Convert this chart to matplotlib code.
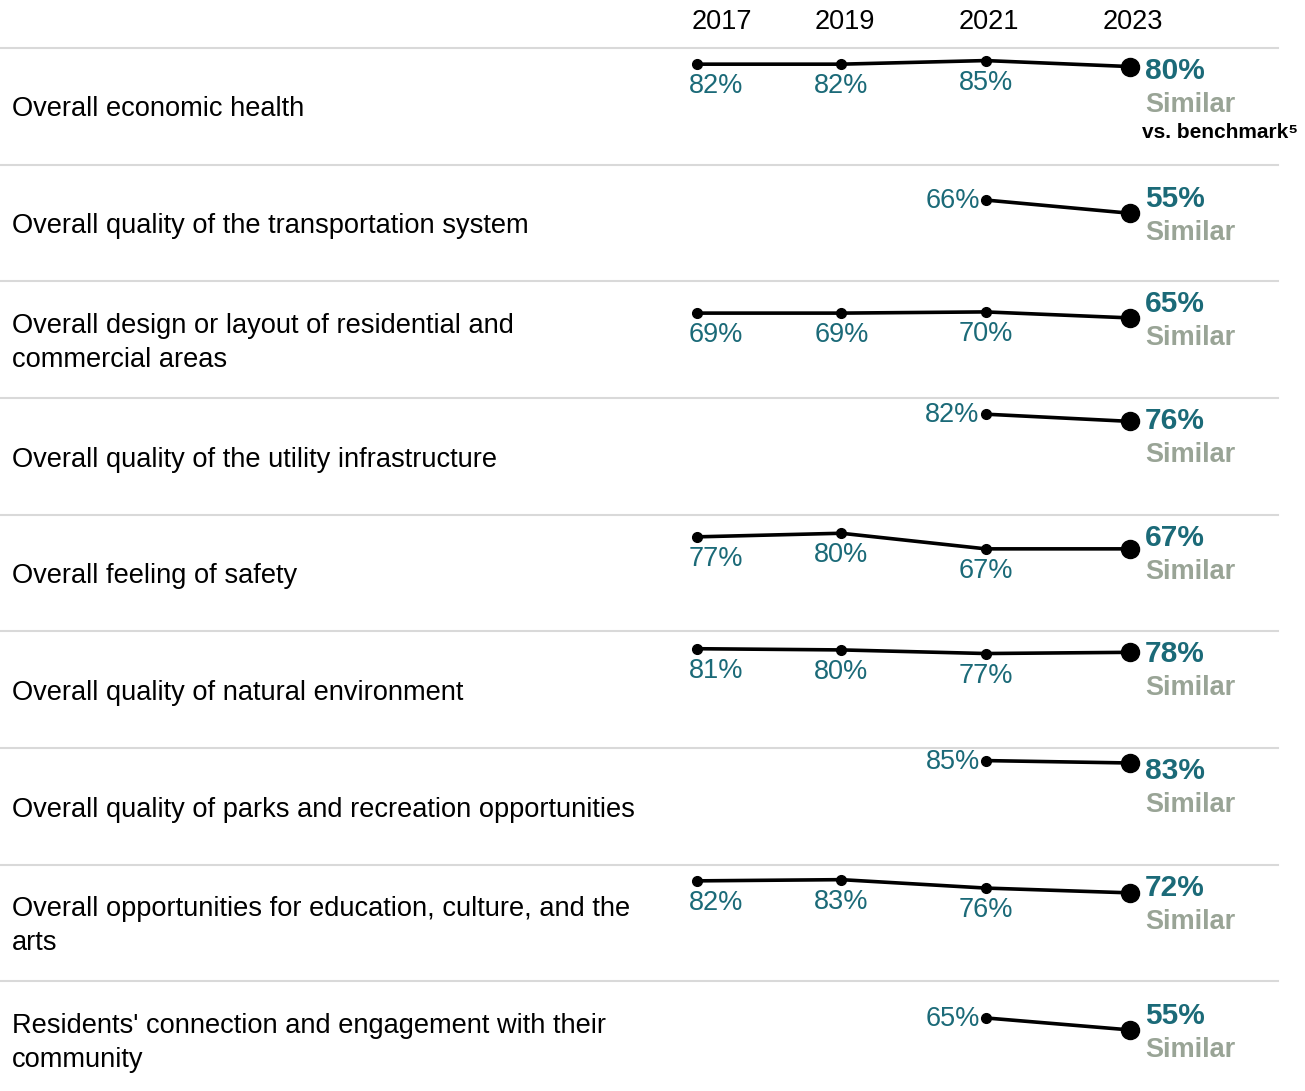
import numpy as np
import matplotlib
matplotlib.use("Agg")
import matplotlib.pyplot as plt

plt.rcParams['font.family'] = ['Liberation Sans', 'DejaVu Sans']

years = [2017, 2019, 2021, 2023]

categories = [
    "Overall economic health",
    "Overall quality of the transportation system",
    "Overall design or layout of residential and\ncommercial areas",
    "Overall quality of the utility infrastructure",
    "Overall feeling of safety",
    "Overall quality of natural environment",
    "Overall quality of parks and recreation opportunities",
    "Overall opportunities for education, culture, and the\narts",
    "Residents' connection and engagement with their\ncommunity",
]

# percent positive by survey year (nan = not asked that year)
economic = [82, 82, 85, 80]
transportation = [np.nan, np.nan, 66, 55]
design = [69, 69, 70, 65]
utility = [np.nan, np.nan, 82, 76]
safety = [77, 80, 67, 67]
natural = [81, 80, 77, 78]
parks = [np.nan, np.nan, 85, 83]
education = [82, 83, 76, 72]
connection = [np.nan, np.nan, 65, 55]
ratings = [economic, transportation, design, utility, safety,
           natural, parks, education, connection]

comparison = ["Similar"] * 9

TEAL = "#1b6a78"
GRAY = "#99a496"
RULE = "#d9d9d9"

W, H = 1305, 1091
fig = plt.figure(figsize=(W / 100, H / 100), dpi=100)

top0 = 48
row_h = 116.67
px_per_year = 72.17
x_left = 2017 - 697 / px_per_year
x_right = x_left + W / px_per_year

for i, (cat, vals) in enumerate(zip(categories, ratings)):
    top = top0 + i * row_h
    ax = fig.add_axes([0, 1 - (top + row_h) / H, 1, row_h / H])
    ax.set_xlim(x_left, x_right)
    ax.set_ylim(-1.75, row_h / 1.2 - 1.75)
    ax.axis('off')

    # separator line at top of row
    ax.plot([0, 1278 / W], [1, 1], transform=ax.transAxes, color=RULE,
            lw=1.5, clip_on=False)

    ax.text(12 / W, 1 - 61.5 / row_h, cat, transform=ax.transAxes,
            ha='left', va='center', fontsize=19.6, color='black', linespacing=1.42)

    vals = np.array(vals, dtype=float)
    ok = ~np.isnan(vals)
    xs = np.array(years)[ok]
    vs = vals[ok]
    ax.plot(xs, vs, color='black', lw=2.6, solid_capstyle='round', zorder=3)
    ax.plot(xs[:-1], vs[:-1], 'o', color='black', ms=7, zorder=4)
    ax.plot(xs[-1:], vs[-1:], 'o', color='black', ms=13, zorder=4)

    full = ok.sum() == len(years)
    for x, v in zip(xs[:-1], vs[:-1]):
        lab = f"{v:.0f}%"
        if full:
            if x == years[0]:
                ax.annotate(lab, (x, v), xytext=(-8, -22), textcoords='offset pixels',
                            ha='left', va='center', fontsize=19.5, color=TEAL)
            else:
                ax.annotate(lab, (x, v), xytext=(0, -22), textcoords='offset pixels',
                            ha='center', va='center', fontsize=19.5, color=TEAL)
        else:
            ax.annotate(lab, (x, v), xytext=(-6, -1), textcoords='offset pixels',
                        ha='right', va='center', fontsize=19.5, color=TEAL)

    # final value, comparison
    last = vs[-1]
    lab_v = min(last + 12.5, 77.1)
    ax.annotate(f"{last:.0f}%", (years[-1], lab_v), xytext=(15, -1),
                textcoords='offset pixels', ha='left', va='center',
                fontsize=21.5, fontweight='bold', color=TEAL)
    ax.annotate(comparison[i], (years[-1], lab_v), xytext=(15, -35),
                textcoords='offset pixels', ha='left', va='center',
                fontsize=19.5, fontweight='bold', color=GRAY)
    if i == 0:
        ax.annotate("vs. benchmark\u2075", (years[-1], lab_v), xytext=(12, -62),
                    textcoords='offset pixels', ha='left', va='center',
                    fontsize=15, fontweight='bold', color='black')
        for y in years:
            dx = -5 if y == years[0] else 3
            ha = 'left' if y == years[0] else 'center'
            ax.annotate(str(y), (y, 1), xycoords=('data', 'axes fraction'),
                        xytext=(dx, 26), textcoords='offset pixels',
                        ha=ha, va='center', fontsize=19.5, color='black')

fig.savefig("out.png", dpi=100)
